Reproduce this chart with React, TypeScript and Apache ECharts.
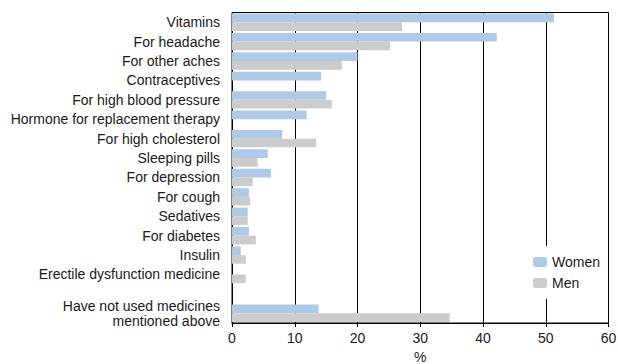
import React, { useEffect, useRef } from "react";
import * as echarts from "echarts";

const categories = [
  "Vitamins",
  "For headache",
  "For other aches",
  "Contraceptives",
  "For high blood pressure",
  "Hormone for replacement therapy",
  "For high cholesterol",
  "Sleeping pills",
  "For depression",
  "For cough",
  "Sedatives",
  "For diabetes",
  "Insulin",
  "Erectile dysfunction medicine",
  "",
  "Have not used medicines\nmentioned above",
];

const women: (number | null)[] = [51.3, 42.2, 20.0, 14.2, 15.0, 11.9, 8.0, 5.7, 6.2, 2.7, 2.5, 2.7, 1.4, null, null, 13.8];
const men: (number | null)[] = [27.1, 25.2, 17.5, null, 15.9, null, 13.4, 4.1, 3.3, 2.9, 2.5, 3.8, 2.2, 2.2, null, 34.7];

const xTicks = [0, 10, 20, 30, 40, 50, 60];

export default function App() {
  const ref = useRef<HTMLDivElement>(null);
  useEffect(() => {
    if (!ref.current) return;
    const chart = echarts.init(ref.current, undefined, { renderer: "svg" });
    const font = "'Liberation Sans', Arial, sans-serif";
    chart.setOption({
      animation: false,
      textStyle: { fontFamily: font },
      grid: {
        left: 232,
        right: 9.5,
        top: 12.5,
        bottom: 41,
        outerBoundsMode: "none",
        containLabel: false,
        show: true,
        borderColor: "#000",
        borderWidth: 1,
      },
      legend: {
        orient: "vertical",
        left: 527,
        top: 246,
        itemWidth: 14,
        itemHeight: 10,
        itemGap: 7,
        padding: [9, 6],
        backgroundColor: "#fff",
        textStyle: { fontSize: 14, color: "#1a1a1a", fontFamily: font },
        data: ["Women", "Men"],
      },
      xAxis: {
        type: "value",
        min: xTicks[0],
        max: xTicks[xTicks.length - 1],
        interval: 10,
        name: "%",
        nameLocation: "middle",
        nameGap: 27,
        nameTextStyle: { fontSize: 14, color: "#1a1a1a", fontFamily: font },
        axisLine: { show: true, lineStyle: { color: "#000", width: 1 } },
        axisTick: { show: true, length: 4, lineStyle: { color: "#000" } },
        axisLabel: { fontSize: 14, color: "#1a1a1a", margin: 8, fontFamily: font },
        splitLine: { show: true, lineStyle: { color: "#000", width: 1 } },
      },
      yAxis: {
        type: "category",
        inverse: true,
        data: categories,
        axisLine: { show: true, lineStyle: { color: "#000", width: 1 } },
        axisTick: { show: false },
        axisLabel: {
          fontSize: 14,
          color: "#1a1a1a",
          margin: 12,
          lineHeight: 15,
          align: "right",
          fontFamily: font,
        },
        splitLine: { show: false },
      },
      series: [
        {
          name: "Women",
          type: "bar",
          data: women,
          barWidth: 8.7,
          barGap: "0%",
          itemStyle: { color: "#aecae6" },
        },
        {
          name: "Men",
          type: "bar",
          data: men,
          barWidth: 8.7,
          barGap: "0%",
          itemStyle: { color: "#cccccc" },
        },
      ],
    });
    return () => chart.dispose();
  }, []);
  return <div ref={ref} style={{ width: 618, height: 364, position: "absolute", left: 0, top: 0 }} />;
}
